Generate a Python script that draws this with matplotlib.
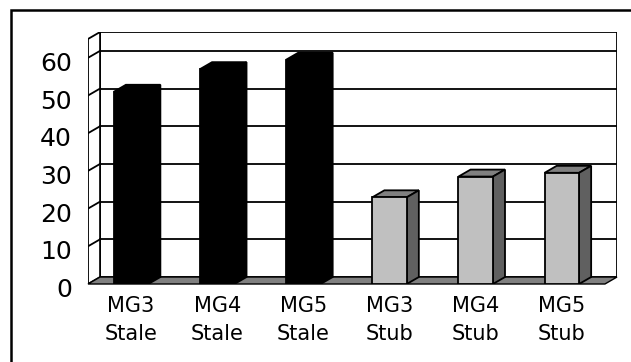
import matplotlib
matplotlib.use("Agg")
import matplotlib.pyplot as plt
from matplotlib.patches import Polygon, Rectangle
from matplotlib.transforms import offset_copy

categories = ["MG3\nStale", "MG4\nStale", "MG5\nStale", "MG3\nStub", "MG4\nStub", "MG5\nStub"]
values = [51, 57, 59.5, 23, 28.5, 29.5]
groups = ["Stale", "Stale", "Stale", "Stub", "Stub", "Stub"]
y_ticks = [0, 10, 20, 30, 40, 50, 60]
y_top = 65

# face colours per group: front, top, side
face_colors = {
    "Stale": ("#000000", "#000000", "#000000"),
    "Stub": ("#c0c0c0", "#808080", "#606060"),
}

W, H = 631, 362
fig = plt.figure(figsize=(W / 100, H / 100), dpi=100)
fig.patch.set_facecolor("white")

# chart frame
fig.add_artist(Rectangle((11 / W, -0.05), 1.1, 1 - 10 / H + 0.05,
                         transform=fig.transFigure, fill=False,
                         edgecolor="black", linewidth=1.8))

ax = fig.add_axes([88 / W, (H - 284) / H, (617 - 88) / W, (284 - 32) / H])
ax.set_facecolor("none")
for s in ax.spines.values():
    s.set_visible(False)

n = len(categories)
x0, x1 = -0.5, n - 0.5
dx, dy = 0.14, 1.85          # oblique depth offset (x in categories, y in value units)
ax.set_xlim(x0, x1 + dx)
ax.set_ylim(0, y_top + dy)

lw = 1.3
# back wall
ax.add_patch(Rectangle((x0 + dx, dy), x1 - x0, y_top, facecolor="white",
                       edgecolor="black", linewidth=lw, zorder=1))
# side wall
ax.add_patch(Polygon([(x0, 0), (x0 + dx, dy), (x0 + dx, y_top + dy), (x0, y_top)],
                     closed=True, facecolor="white", edgecolor="black",
                     linewidth=lw, zorder=1))
# gridlines on back and side walls
for v in y_ticks[1:]:
    ax.plot([x0 + dx, x1 + dx], [v + dy, v + dy], color="black", lw=lw, zorder=2)
    ax.plot([x0, x0 + dx], [v, v + dy], color="black", lw=lw, zorder=2)
# floor
ax.add_patch(Polygon([(x0, 0), (x1, 0), (x1 + dx, dy), (x0 + dx, dy)],
                     closed=True, facecolor="#808080", edgecolor="black",
                     linewidth=1.0, zorder=2, clip_on=False))

# bars
bw = 0.4
xs = list(range(n))
fronts = [face_colors[g][0] for g in groups]
ax.bar(xs, values, width=bw, color=fronts, edgecolor="black", linewidth=lw, zorder=4)
for x, v, g in zip(xs, values, groups):
    _, top_c, side_c = face_colors[g]
    xl, xr = x - bw / 2, x + bw / 2
    ax.add_patch(Polygon([(xl, v), (xr, v), (xr + dx, v + dy), (xl + dx, v + dy)],
                         closed=True, facecolor=top_c, edgecolor="black",
                         linewidth=lw, zorder=3))
    ax.add_patch(Polygon([(xr, 0), (xr + dx, dy), (xr + dx, v + dy), (xr, v)],
                         closed=True, facecolor=side_c, edgecolor="black",
                         linewidth=lw, zorder=3))

# axis labels
ax.set_xticks(xs)
ax.set_xticklabels(categories, fontsize=15, family="DejaVu Sans", linespacing=1.45)
ax.tick_params(axis="x", length=0, pad=9)
ax.set_yticks([])
ylab_tr = offset_copy(ax.transData, fig=fig, x=-16, y=-6, units="dots")
for v in y_ticks:
    ax.text(x0, v, str(v), transform=ylab_tr, ha="right", va="center",
            fontsize=18, family="DejaVu Sans")

fig.savefig("out.png", dpi=100)
